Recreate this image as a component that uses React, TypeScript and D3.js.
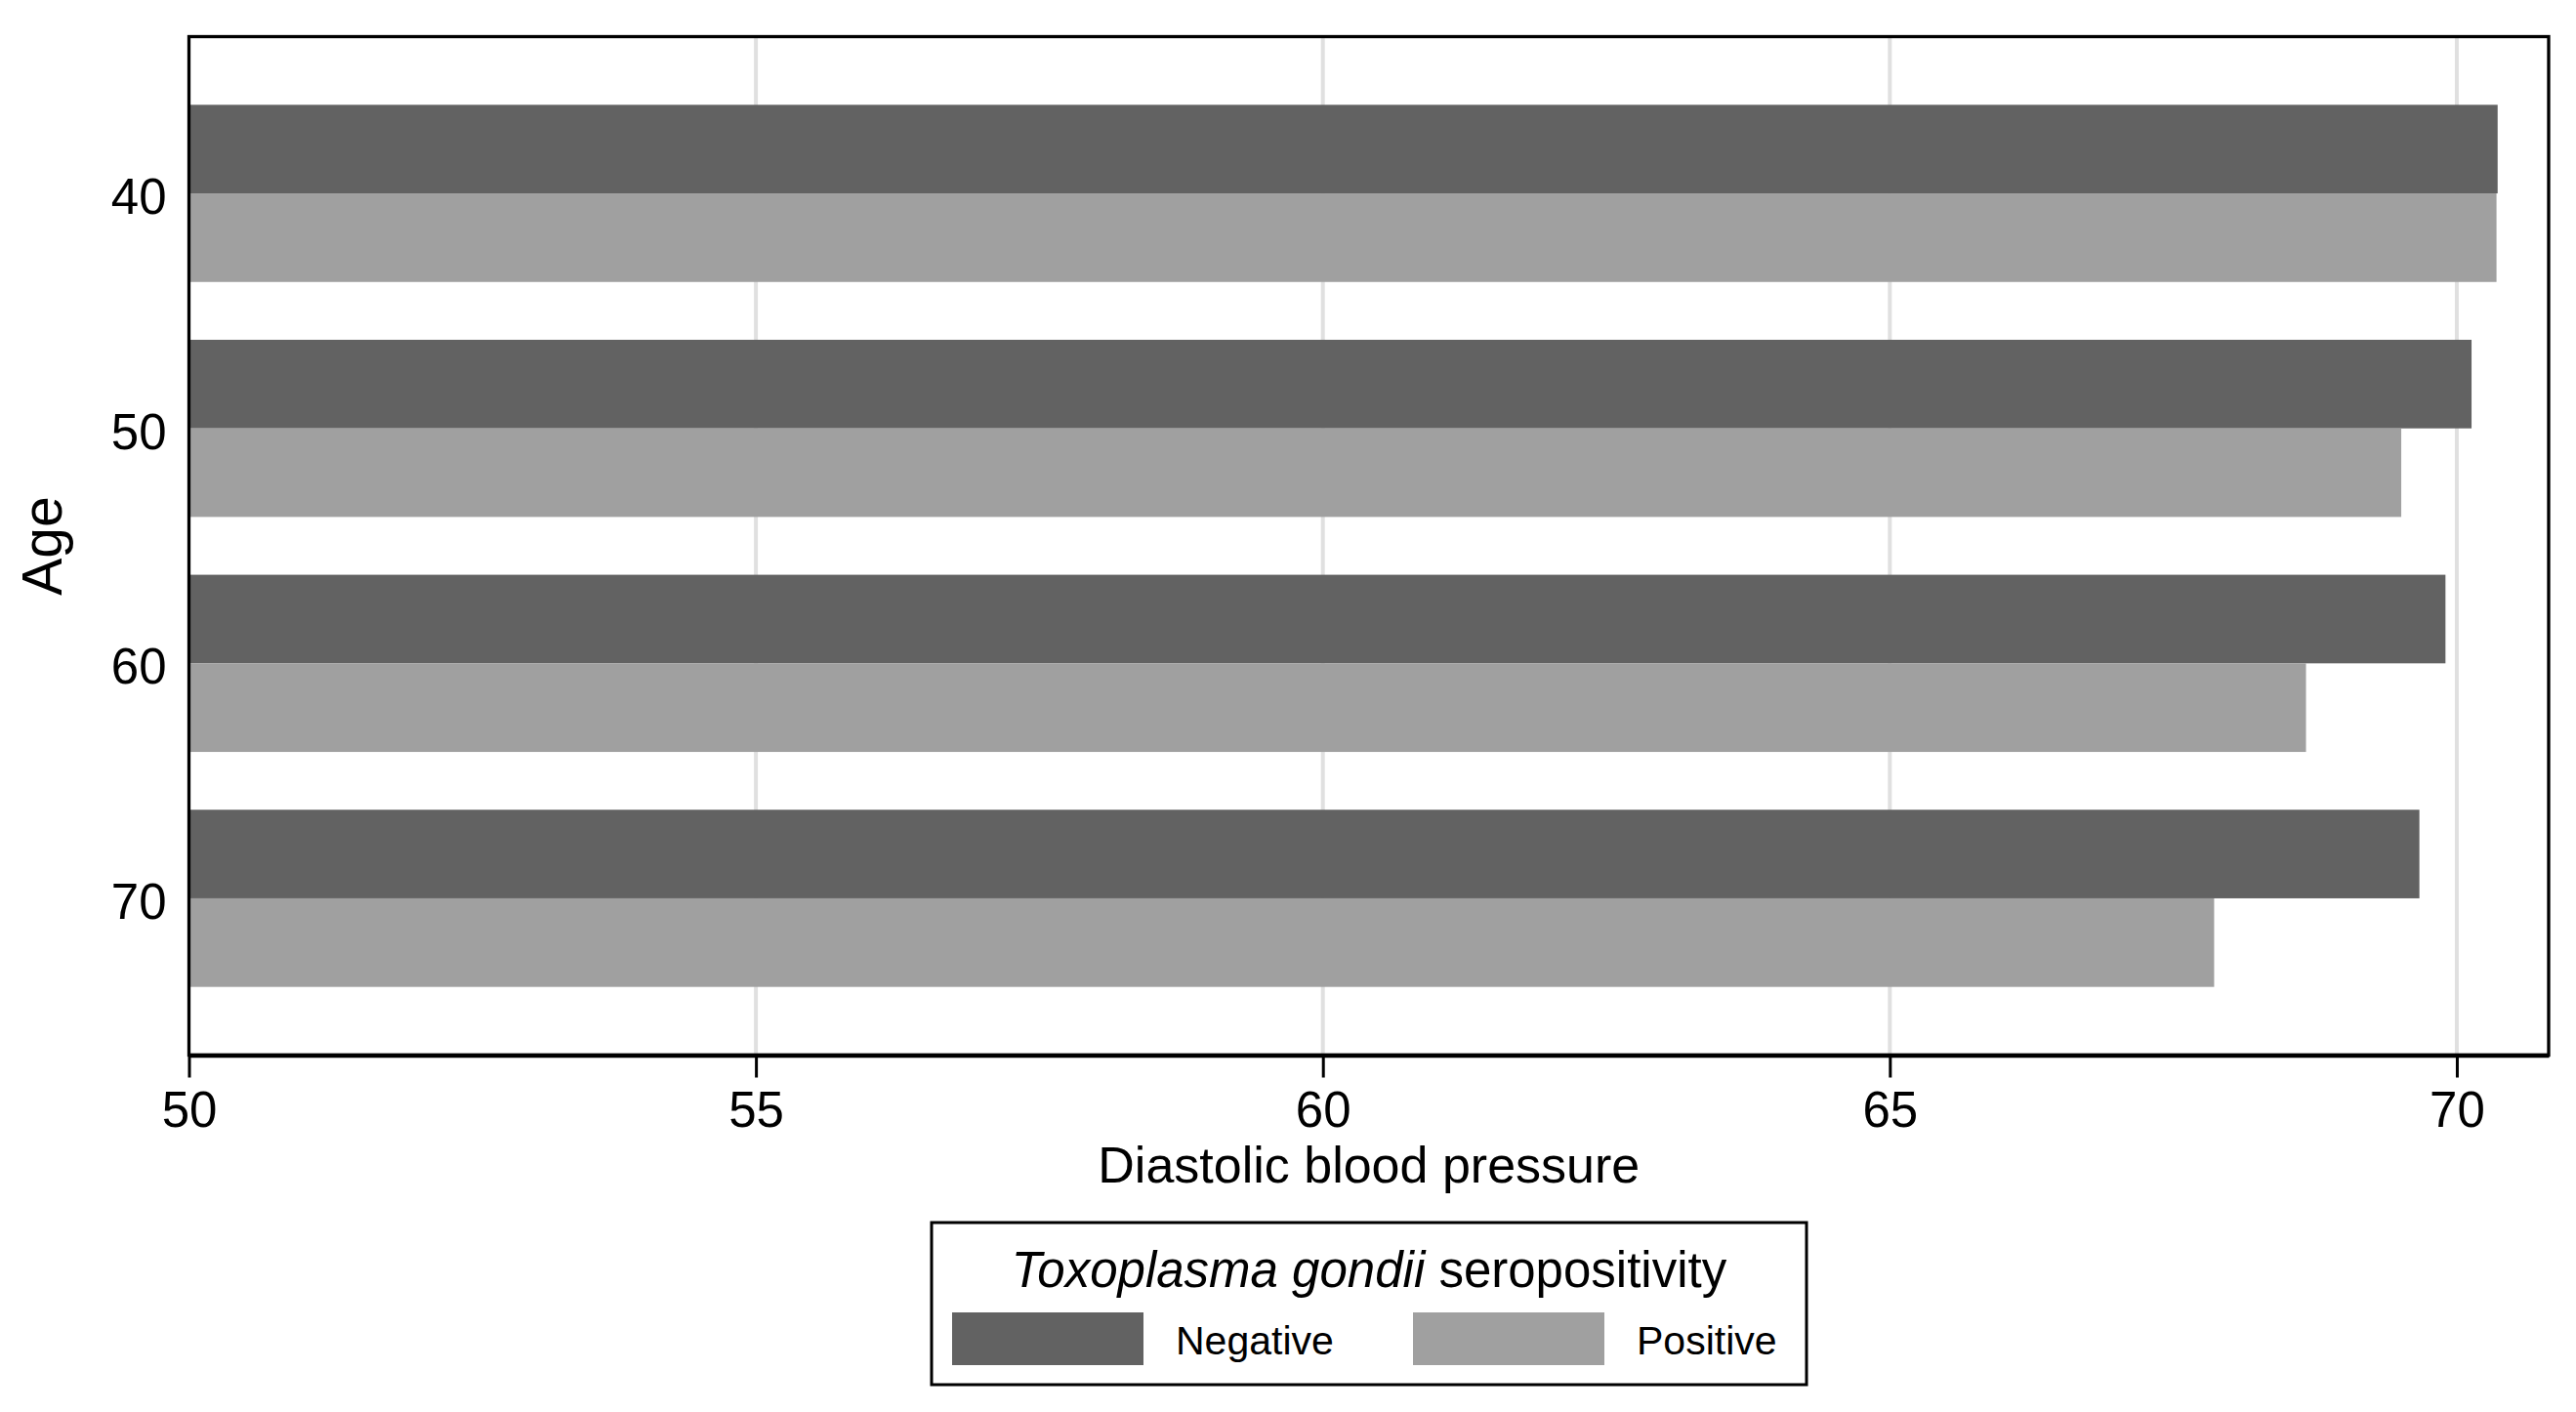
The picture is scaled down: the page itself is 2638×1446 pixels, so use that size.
import { useEffect, useRef } from 'react'
import * as d3 from 'd3'

const ages = ['40', '50', '60', '70']
const groups = ['Negative', 'Positive']
const negativeValues = [70.36, 70.13, 69.9, 69.67]
const positiveValues = [70.35, 69.51, 68.67, 67.86]
const xTicks = [50, 55, 60, 65, 70]
const groupColors = ['#626262', '#a0a0a0']

const W = 2638
const H = 1446
const FONT = "'Liberation Sans', Arial, Helvetica, sans-serif"

export default function App() {
	const ref = useRef<SVGSVGElement>(null)

	useEffect(() => {
		const svg = d3.select(ref.current)
		svg.selectAll('*').remove()

		const plot = { left: 193.5, right: 2610, top: 37.5, bottom: 1080.5 }

		const x = d3.scaleLinear().domain([50, 70.81]).range([plot.left, plot.right])
		const y = d3
			.scaleBand()
			.domain(ages)
			.range([plot.top + 1, plot.bottom - 1])
			.paddingInner(0.246)
			.paddingOuter(0.286)
		const sub = d3.scaleBand().domain(groups).range([0, y.bandwidth()])

		const rows = ages.map((a, i) => ({
			age: a,
			values: [negativeValues[i], positiveValues[i]],
		}))

		// grid lines
		svg
			.append('g')
			.selectAll('line')
			.data(xTicks.slice(1))
			.enter()
			.append('line')
			.attr('x1', (d) => x(d))
			.attr('x2', (d) => x(d))
			.attr('y1', plot.top)
			.attr('y2', plot.bottom)
			.attr('stroke', '#e0e0e0')
			.attr('stroke-width', 4)

		// bars
		const rowG = svg
			.append('g')
			.selectAll('g')
			.data(rows)
			.enter()
			.append('g')
			.attr('transform', (d) => 'translate(0,' + y(d.age) + ')')

		rowG
			.selectAll('rect')
			.data((d) => d.values.map((v, j) => ({ v, g: groups[j], j })))
			.enter()
			.append('rect')
			.attr('x', x(50))
			.attr('y', (d) => sub(d.g) as number)
			.attr('width', (d) => x(d.v) - x(50))
			.attr('height', sub.bandwidth())
			.attr('fill', (d) => groupColors[d.j])

		// frame
		svg
			.append('rect')
			.attr('x', plot.left)
			.attr('y', plot.top)
			.attr('width', plot.right - plot.left)
			.attr('height', plot.bottom - plot.top)
			.attr('fill', 'none')
			.attr('stroke', '#000')
			.attr('stroke-width', 3.3)

		// x axis
		const xAxis = d3
			.axisBottom(x)
			.tickValues(xTicks)
			.tickSize(23)
			.tickSizeOuter(0)
			.tickPadding(14)
			.tickFormat((d) => String(d))
		const xg = svg
			.append('g')
			.attr('transform', 'translate(0,' + plot.bottom + ')')
			.call(xAxis)
		xg.select('.domain').attr('stroke-width', 4.5)
		xg.selectAll('.tick line').attr('stroke-width', 3)
		xg.selectAll('.tick text').style('font', '51px ' + FONT).attr('fill', '#000')

		// y axis
		const yAxis = d3.axisLeft(y).tickSize(0).tickPadding(23)
		const yg = svg
			.append('g')
			.attr('transform', 'translate(' + plot.left + ',0)')
			.call(yAxis)
		yg.select('.domain').remove()
		yg.selectAll('.tick text')
			.style('font', '51px ' + FONT)
			.attr('fill', '#000')
			.attr('dy', '0.41em')

		// axis titles
		svg
			.append('text')
			.attr('x', (plot.left + plot.right) / 2)
			.attr('y', 1211)
			.style('text-anchor', 'middle')
			.style('font', '52px ' + FONT)
			.text('Diastolic blood pressure')

		svg
			.append('text')
			.attr('transform', 'translate(63,' + (plot.top + plot.bottom) / 2 + ') rotate(-90)')
			.style('text-anchor', 'middle')
			.style('font', '57px ' + FONT)
			.text('Age')

		// legend
		const lg = svg.append('g')
		lg.append('rect')
			.attr('x', 954)
			.attr('y', 1252)
			.attr('width', 896)
			.attr('height', 166)
			.attr('fill', '#fff')
			.attr('stroke', '#000')
			.attr('stroke-width', 3)

		const title = lg
			.append('text')
			.attr('x', 1402)
			.attr('y', 1318)
			.style('text-anchor', 'middle')
			.style('font', '51px ' + FONT)
		title.append('tspan').style('font-style', 'italic').text('Toxoplasma gondii')
		title.append('tspan').text(' seropositivity')

		const swatchX = [975, 1447]
		groups.forEach((g, i) => {
			lg.append('rect')
				.attr('x', swatchX[i])
				.attr('y', 1344)
				.attr('width', 196)
				.attr('height', 54)
				.attr('fill', groupColors[i])
			lg.append('text')
				.attr('x', swatchX[i] + 229)
				.attr('y', 1387)
				.style('font', '41px ' + FONT)
				.text(g)
		})
	}, [])

	return (
		<svg
			ref={ref}
			width={W}
			height={H}
			viewBox={`0 0 ${W} ${H}`}
			style={{ position: 'absolute', left: 0, top: 0, background: '#fff', display: 'block' }}
		/>
	)
}
